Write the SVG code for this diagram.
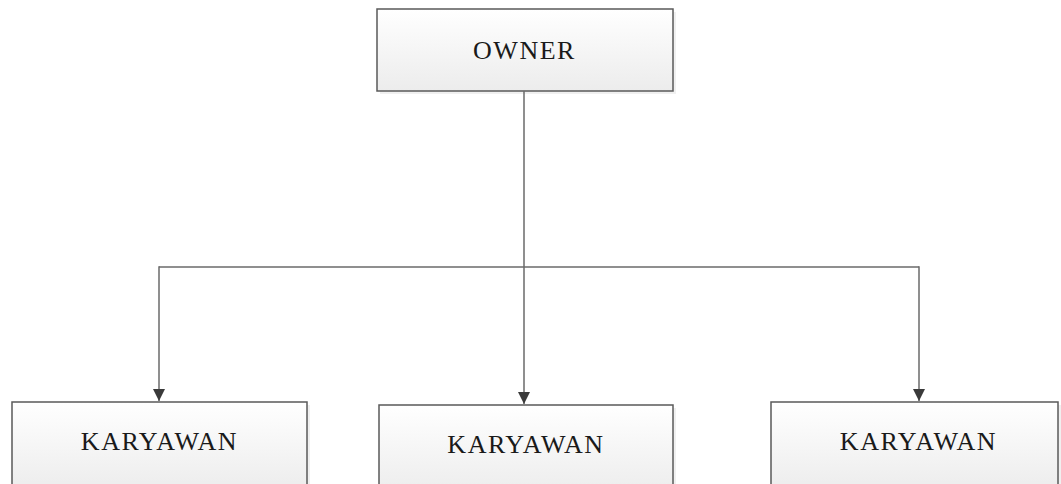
<svg xmlns="http://www.w3.org/2000/svg" width="1061" height="484" viewBox="0 0 1061 484">
  <defs>
    <linearGradient id="g" x1="0" y1="0" x2="0" y2="1">
      <stop offset="0" stop-color="#ffffff"/>
      <stop offset="1" stop-color="#ececec"/>
    </linearGradient>
    <marker id="arrow" viewBox="0 0 12 12" refX="12" refY="6" markerWidth="12" markerHeight="12" orient="auto" markerUnits="userSpaceOnUse">
      <path d="M0,0 L12,6 L0,12 z" fill="#3a3a3a"/>
    </marker>
  </defs>
  <style>
    .box { fill: url(#g); stroke: #5a5a5a; stroke-width: 1.5; }
    .shadow { fill: #000; opacity: 0.06; }
    .lbl { font-family: "Liberation Serif", "Times New Roman", serif; font-size: 26px; letter-spacing: 1.5px; fill: #1a1a1a; text-anchor: middle; }
    .conn { stroke: #6a6a6a; stroke-width: 1.5; fill: none; }
  </style>
  <rect width="1061" height="484" fill="#ffffff"/>
  <g id="owner">
    <rect class="shadow" x="380" y="12" width="296" height="82"/>
    <rect class="box" x="377" y="9" width="296" height="82"/>
    <text class="lbl" x="524.5" y="59">OWNER</text>
  </g>
  <g id="karyawan1">
    <rect class="shadow" x="15" y="405" width="295" height="90"/>
    <rect class="box" x="12" y="402" width="295" height="90"/>
    <text class="lbl" x="159.5" y="450">KARYAWAN</text>
  </g>
  <g id="karyawan2">
    <rect class="shadow" x="382" y="408" width="294" height="90"/>
    <rect class="box" x="379" y="405" width="294" height="90"/>
    <text class="lbl" x="526" y="453">KARYAWAN</text>
  </g>
  <g id="karyawan3">
    <rect class="shadow" x="774" y="405" width="287" height="90"/>
    <rect class="box" x="771" y="402" width="287" height="90"/>
    <text class="lbl" x="918.5" y="450">KARYAWAN</text>
  </g>
  <g id="connectors">
    <line class="conn" x1="524" y1="91" x2="524" y2="267"/>
    <line class="conn" x1="159" y1="267" x2="919" y2="267"/>
    <line class="conn" x1="159" y1="266.25" x2="159" y2="401" marker-end="url(#arrow)"/>
    <line class="conn" x1="524" y1="267" x2="524" y2="404" marker-end="url(#arrow)"/>
    <line class="conn" x1="919" y1="266.25" x2="919" y2="401" marker-end="url(#arrow)"/>
  </g>
</svg>
